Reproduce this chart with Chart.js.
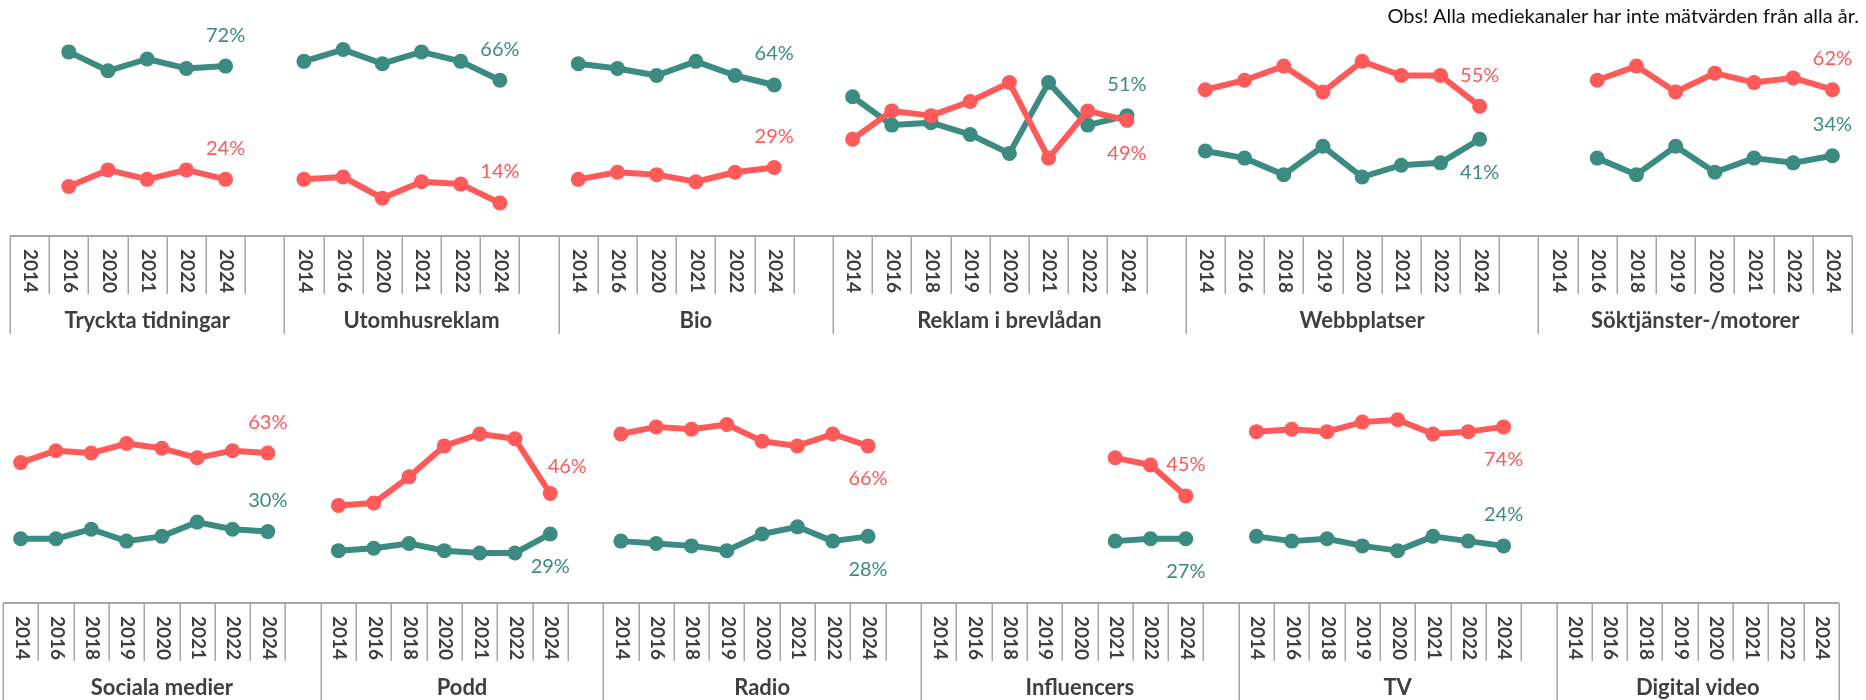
<!DOCTYPE html>
<html lang="sv">
<head>
<meta charset="utf-8">
<script src="https://cdn.jsdelivr.net/npm/chart.js@4.4.1/dist/chart.umd.min.js"></script>
<style>
  body { margin: 0; background: #fff; width: 1866px; height: 700px; overflow: hidden; position: relative; font-family: Lato, sans-serif; }
  .row { position: absolute; left: 0; width: 1866px; height: 350px; }
  #row1 { top: 0; }
  #row2 { top: 350px; }
  #note { position: absolute; right: 7px; top: 3px; font-size: 20px; color: #111; z-index: 2; }
</style>
</head>
<body>
<div id="note">Obs! Alla mediekanaler har inte mätvärden från alla år.</div>
<div class="row" id="row1"><canvas id="chart1" width="1866" height="350"></canvas></div>
<div class="row" id="row2"><canvas id="chart2" width="1866" height="350"></canvas></div>
<script>
// year sets used by the channels
const yearsShort = ['2014', '2016', '2020', '2021', '2022', '2024'];
const yearsPodd = ['2014', '2016', '2018', '2020', '2021', '2022', '2024'];
const yearsLong = ['2014', '2016', '2018', '2019', '2020', '2021', '2022', '2024'];

const row1Names = ['Tryckta tidningar', 'Utomhusreklam', 'Bio', 'Reklam i brevlådan', 'Webbplatser', 'Söktjänster-/motorer'];
const row2Names = ['Sociala medier', 'Podd', 'Radio', 'Influencers', 'TV', 'Digital video'];

// percent per year, null = not measured
const tryckGreen = [null, 78, 70, 75, 71, 72];
const tryckRed = [null, 21, 28, 24, 28, 24];
const utomGreen = [74, 79, 73, 78, 74, 66];
const utomRed = [24, 25, 16, 23, 22, 14];
const bioGreen = [73, 71, 68, 74, 68, 64];
const bioRed = [24, 27, 26, 23, 27, 29];
const brevGreen = [59, 47, 48, 43, 35, 65, 47, 51];
const brevRed = [41, 53, 51, 57, 65, 33, 53, 49];
const webbGreen = [36, 33, 26, 38, 25, 30, 31, 41];
const webbRed = [62, 66, 72, 61, 74, 68, 68, 55];
const sokGreen = [null, 33, 26, 38, 27, 33, 31, 34];
const sokRed = [null, 66, 72, 61, 69, 65, 67, 62];

const socGreen = [27, 27, 31, 26, 28, 34, 31, 30];
const socRed = [59, 64, 63, 67, 65, 61, 64, 63];
const poddGreen = [22, 23, 25, 22, 21, 21, 29];
const poddRed = [41, 42, 53, 66, 71, 69, 46];
const radioGreen = [26, 25, 24, 22, 29, 32, 26, 28];
const radioRed = [71, 74, 73, 75, 68, 66, 71, 66];
const inflGreen = [null, null, null, null, null, 26, 27, 27];
const inflRed = [null, null, null, null, null, 61, 58, 45];
const tvGreen = [28, 26, 27, 24, 22, 28, 26, 24];
const tvRed = [72, 73, 72, 76, 77, 71, 72, 74];
const dvGreen = [null, null, null, null, null, null, null, null];
const dvRed = [null, null, null, null, null, null, null, null];

const GREEN = '#3b8b80';
const RED = '#ff5a5a';
const TEXT = '#3f3f3f';
const LINE = '#a6a6a6';

// where the end value sits: offset from the last point
const UP = { dx: 0, dy: -31 };
const DOWN = { dx: 0, dy: 33 };

const row1 = [
  { name: row1Names[0], years: yearsShort, green: tryckGreen, red: tryckRed, gPos: UP, rPos: UP },
  { name: row1Names[1], years: yearsShort, green: utomGreen, red: utomRed, gPos: UP, rPos: UP },
  { name: row1Names[2], years: yearsShort, green: bioGreen, red: bioRed, gPos: UP, rPos: UP },
  { name: row1Names[3], years: yearsLong, green: brevGreen, red: brevRed, gPos: UP, rPos: DOWN },
  { name: row1Names[4], years: yearsLong, green: webbGreen, red: webbRed, gPos: DOWN, rPos: UP },
  { name: row1Names[5], years: yearsLong, green: sokGreen, red: sokRed, gPos: UP, rPos: UP },
];
const row2 = [
  { name: row2Names[0], years: yearsLong, green: socGreen, red: socRed, gPos: UP, rPos: UP },
  { name: row2Names[1], years: yearsPodd, green: poddGreen, red: poddRed, gPos: DOWN, rPos: { dx: 17, dy: -27 } },
  { name: row2Names[2], years: yearsLong, green: radioGreen, red: radioRed, gPos: DOWN, rPos: DOWN },
  { name: row2Names[3], years: yearsLong, green: inflGreen, red: inflRed, gPos: DOWN, rPos: UP },
  { name: row2Names[4], years: yearsLong, green: tvGreen, red: tvRed, gPos: UP, rPos: DOWN },
  { name: row2Names[5], years: yearsLong, green: dvGreen, red: dvRed, gPos: UP, rPos: UP },
];

// flatten the groups into one category axis, one empty slot between groups
function flatten(groups) {
  const labels = [], green = [], red = [], spans = [];
  groups.forEach((g, gi) => {
    const start = labels.length;
    g.years.forEach((y, i) => {
      labels.push(y);
      green.push(g.green[i]);
      red.push(g.red[i]);
    });
    const lastIdx = labels.length - 1;
    if (gi < groups.length - 1) {
      labels.push('');
      green.push(null);
      red.push(null);
    }
    spans.push({ start, end: labels.length - 1, lastIdx, group: g });
  });
  return { labels, green, red, spans };
}

const groupAxis = {
  id: 'groupAxis',
  afterDraw(chart, args, opts) {
    const { ctx, chartArea } = chart;
    const x = chart.scales.x;
    const spans = opts.spans;
    const n = chart.data.labels.length;
    const half = (x.getPixelForValue(1) - x.getPixelForValue(0)) / 2;
    const edge = i => x.getPixelForValue(i) - half;
    const y0 = chartArea.bottom;
    const left = edge(0), right = x.getPixelForValue(n - 1) + half;

    ctx.save();
    ctx.strokeStyle = LINE;
    ctx.lineWidth = 2;
    ctx.beginPath();
    ctx.moveTo(left, y0);
    ctx.lineTo(right, y0);
    ctx.stroke();

    ctx.lineWidth = 1.5;
    const groupEdges = new Set(spans.map(s => s.start));
    ctx.beginPath();
    for (let i = 0; i <= n; i++) {
      const px = Math.round(i < n ? edge(i) : right) + 0.25;
      const len = (groupEdges.has(i) || i === n) ? opts.divider : opts.tick;
      ctx.moveTo(px, y0);
      ctx.lineTo(px, y0 + len);
    }
    ctx.stroke();

    // year labels, read top to bottom
    ctx.fillStyle = TEXT;
    ctx.font = 'bold 19px Lato';
    ctx.textAlign = 'left';
    ctx.textBaseline = 'middle';
    chart.data.labels.forEach((lab, i) => {
      if (!lab) return;
      ctx.save();
      ctx.translate(x.getPixelForValue(i) + 1, y0 + 13);
      ctx.rotate(Math.PI / 2);
      ctx.fillText(lab, 0, 0);
      ctx.restore();
    });

    // channel names
    ctx.font = 'bold 22px Lato';
    ctx.textAlign = 'center';
    spans.forEach(s => {
      const cx = (edge(s.start) + (s.end + 1 < n ? edge(s.end + 1) : right)) / 2;
      ctx.fillText(s.group.name, cx, y0 + opts.nameOffset);
    });
    ctx.restore();
  }
};

const endLabels = {
  id: 'endLabels',
  afterDatasetsDraw(chart, args, opts) {
    const { ctx } = chart;
    ctx.save();
    ctx.font = '20px Lato';
    ctx.textAlign = 'center';
    ctx.textBaseline = 'middle';
    opts.spans.forEach(s => {
      chart.data.datasets.forEach((ds, di) => {
        const v = ds.data[s.lastIdx];
        if (v == null) return;
        const pt = chart.getDatasetMeta(di).data[s.lastIdx];
        const pos = ds.key === 'green' ? s.group.gPos : s.group.rPos;
        ctx.fillStyle = ds.borderColor;
        ctx.fillText(v + '%', pt.x + pos.dx, pt.y + pos.dy);
      });
    });
    ctx.restore();
  }
};

function makeChart(canvasId, groups, padding, axisOpts) {
  const flat = flatten(groups);
  const series = (key, data, color) => ({
    key,
    data,
    borderColor: color,
    backgroundColor: color,
    pointBackgroundColor: color,
    borderWidth: 6,
    pointRadius: 7.5,
    pointBorderWidth: 0,
    borderJoinStyle: 'round',
    borderCapStyle: 'round',
    spanGaps: false,
    clip: false,
  });
  return new Chart(document.getElementById(canvasId), {
    type: 'line',
    data: {
      labels: flat.labels,
      // red listed first so it is drawn on top
      datasets: [series('red', flat.red, RED), series('green', flat.green, GREEN)]
    },
    options: {
      responsive: false,
      animation: false,
      layout: { padding, autoPadding: false },
      scales: {
        x: { type: 'category', display: false, offset: true },
        y: { display: false, min: 0, max: 100 }
      },
      plugins: {
        legend: { display: false },
        tooltip: { enabled: false },
        groupAxis: Object.assign({ spans: flat.spans }, axisOpts),
        endLabels: { spans: flat.spans }
      }
    },
    plugins: [groupAxis, endLabels]
  });
}

makeChart('chart1', row1, { left: 10, right: 14, top: 0, bottom: 114 }, { tick: 58, divider: 98, nameOffset: 85 });
makeChart('chart2', row2, { left: 3, right: 27, top: 15, bottom: 97 }, { tick: 58, divider: 120, nameOffset: 85 });
</script>
</body>
</html>
